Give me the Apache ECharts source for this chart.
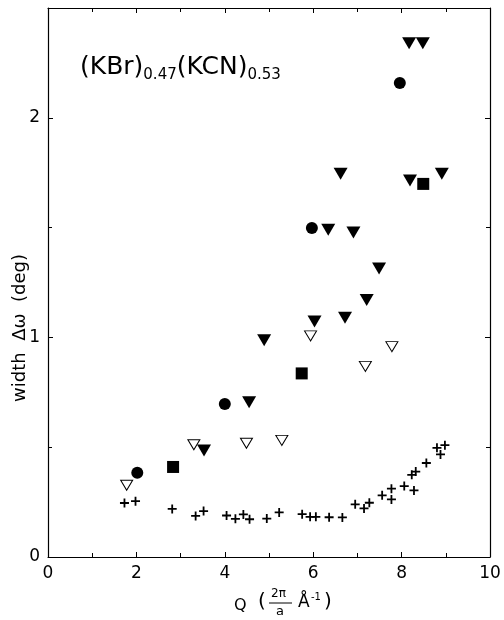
<!DOCTYPE html>
<html>
<head>
<meta charset="utf-8">
<script src="https://cdn.jsdelivr.net/npm/echarts@6/dist/echarts.min.js"></script>
<style>
  html, body { margin: 0; padding: 0; background: #fff; }
  #chart { width: 504px; height: 620px; }
</style>
</head>
<body>
<div id="chart"></div>
<script>
// data: [Q, width]
const filledTriangles = [
  [8.17, 2.34], [8.48, 2.34], [6.62, 1.745], [8.19, 1.714], [8.91, 1.745],
  [6.34, 1.49], [6.91, 1.478], [7.49, 1.314], [7.21, 1.17], [6.03, 1.072],
  [6.72, 1.09], [4.89, 0.987], [4.55, 0.705], [3.53, 0.485]
]
const filledCircles = [[7.96, 2.159], [5.97, 1.498], [4.0, 0.697], [2.02, 0.384]]
const filledSquares = [[8.49, 1.699], [5.74, 0.836], [2.83, 0.41]]
const openTriangles = [
  [5.94, 1.007], [7.78, 0.958], [7.18, 0.868], [4.49, 0.518],
  [5.29, 0.531], [3.30, 0.511], [1.78, 0.327]
]
const crosses = [
  [1.73, 0.246], [1.98, 0.254], [2.81, 0.219], [3.34, 0.187], [3.52, 0.209],
  [4.04, 0.189], [4.24, 0.174], [4.42, 0.194], [4.56, 0.172], [4.95, 0.175],
  [5.23, 0.203], [5.75, 0.195], [5.93, 0.183], [6.06, 0.183], [6.36, 0.181],
  [6.66, 0.18], [6.95, 0.24], [7.15, 0.221], [7.27, 0.247], [7.56, 0.281],
  [7.77, 0.311], [7.77, 0.262], [8.06, 0.323], [8.28, 0.303], [8.23, 0.374],
  [8.32, 0.389], [8.56, 0.428], [8.80, 0.497], [8.88, 0.467], [8.98, 0.509]
]
const xTicks = [0, 2, 4, 6, 8, 10]
const yTicks = [0, 1, 2]

const font = 'DejaVu Sans'
const ink = '#000'
const plusPath = 'path://M4,0H6V4H10V6H6V10H4V6H0V4H4Z'

let chart = echarts.init(document.getElementById('chart'))

const axisCommon = {
  type: 'value',
  axisLine: { show: true, onZero: false, lineStyle: { color: ink, width: 1.2 } },
  axisTick: { show: true, inside: true, length: 5, lineStyle: { color: ink } },
  minorTick: { show: true, splitNumber: 2, length: 4, lineStyle: { color: ink } },
  splitLine: { show: false }
}

chart.setOption({
  animation: false,
  backgroundColor: '#fff',
  grid: { left: 48, right: 14, top: 8, bottom: 63 },
  xAxis: [
    Object.assign({}, axisCommon, {
      min: 0, max: 10, interval: 2, position: 'bottom',
      axisLabel: {
        color: ink, fontFamily: font, fontSize: 17, margin: 8,
        formatter: v => xTicks.includes(v) ? String(v) : ''
      }
    }),
    Object.assign({}, axisCommon, {
      min: 0, max: 10, interval: 2, position: 'top',
      axisLabel: { show: false }
    })
  ],
  yAxis: [
    Object.assign({}, axisCommon, {
      min: 0, max: 2.5, interval: 1, position: 'left',
      axisLabel: {
        color: ink, fontFamily: font, fontSize: 17, margin: 8,
        formatter: v => yTicks.includes(v) ? String(v) : ''
      }
    }),
    Object.assign({}, axisCommon, {
      min: 0, max: 2.5, interval: 1, position: 'right',
      axisLabel: { show: false }
    })
  ],
  graphic: [
    {
      type: 'text', left: 80, top: 55,
      style: {
        text: '(KBr){s|0.47}(KCN){s|0.53}',
        fill: ink, font: '25px ' + font,
        rich: { s: { fontSize: 15, fontFamily: font, fill: ink, padding: [16, 0, 0, 0] } }
      }
    },
    {
      type: 'text', x: 20, y: 328, rotation: Math.PI / 2,
      style: {
        text: 'width  Δω  (deg)', fill: ink, font: '18px ' + font,
        align: 'center', verticalAlign: 'middle'
      }
    },
    { type: 'text', x: 234, y: 598, style: { text: 'Q', fill: ink, font: '16px ' + font } },
    { type: 'text', x: 258, y: 592, style: { text: '(', fill: ink, font: '20px ' + font } },
    { type: 'text', x: 271, y: 588, style: { text: '2π', fill: ink, font: '12px ' + font } },
    { type: 'line', shape: { x1: 269, y1: 603, x2: 292, y2: 603 }, style: { stroke: ink, lineWidth: 1 } },
    { type: 'text', x: 276, y: 605, style: { text: 'a', fill: ink, font: '13px ' + font } },
    { type: 'text', x: 298, y: 594, style: { text: '\u00C5', fill: ink, font: '17px ' + font } },
    { type: 'text', x: 311, y: 592, style: { text: '-1', fill: ink, font: '10px ' + font } },
    { type: 'text', x: 324, y: 592, style: { text: ')', fill: ink, font: '20px ' + font } }
  ],
  series: [
    {
      type: 'scatter', data: filledTriangles, symbol: 'triangle', symbolRotate: 180,
      symbolSize: [14, 12], itemStyle: { color: ink, opacity: 1 }
    },
    {
      type: 'scatter', data: filledCircles, symbol: 'circle',
      symbolSize: 12, itemStyle: { color: ink, opacity: 1 }
    },
    {
      type: 'scatter', data: filledSquares, symbol: 'rect',
      symbolSize: 12, itemStyle: { color: ink, opacity: 1 }
    },
    {
      type: 'scatter', data: openTriangles, symbol: 'triangle', symbolRotate: 180,
      symbolSize: [12, 10], itemStyle: { color: '#fff', borderColor: ink, borderWidth: 1, opacity: 1 }
    },
    {
      type: 'scatter', data: crosses, symbol: plusPath,
      symbolSize: 9, itemStyle: { color: ink, opacity: 1 }
    }
  ]
})
</script>
</body>
</html>
